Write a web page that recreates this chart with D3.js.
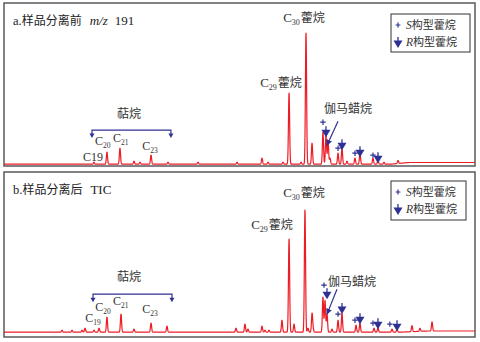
<!DOCTYPE html>
<html><head><meta charset="utf-8">
<script src="https://cdn.jsdelivr.net/npm/d3@7/dist/d3.min.js"></script>
<style>
html,body{margin:0;padding:0;background:#fff;}
svg{display:block;}
</style></head>
<body>
<script>
// ---------- DATA (retention time in min, intensity relative to C30 hopane = 100) ----------
const peakTimesA   = [24.55,25.93,27.31,28.80,29.44,30.61,32.41,35.60,39.74,42.39,43.03,44.62,45.26,46.53,47.06,47.70,48.86,49.18,49.40,49.61,50.46,50.88,51.41,52.26,52.79,54.17,54.70,55.34,56.83];
const peakHeightsA = [1.5,9.2,12.2,2.3,1.5,6.9,1.5,1.5,1.5,4.6,1.5,1.5,54.2,1.5,100,16,24.4,22,18,4.6,8.4,12.2,2.3,4.6,8.4,4.6,3,1.5,2.3];
const peakTimesB   = [21.16,22.22,23.28,23.60,24.55,25.09,25.93,27.42,28.80,30.61,32.30,39.63,40.58,40.90,42.39,42.71,43.13,44.51,45.26,45.79,46.95,47.27,47.70,47.80,48.86,49.08,49.29,49.82,50.46,50.88,52.37,52.79,54.28,54.70,56.19,56.72,58.31,59.16,60.44];
const peakHeightsB = [1.6,1.6,1.6,3.3,1.6,3.3,12.3,14.8,2.5,7.4,4.9,3.3,6.6,2.5,4.9,1.6,1.6,9.8,76.2,6.6,100,3.3,14.8,3,28.7,26,14.8,2.5,9.8,15.6,5.7,7.4,3.3,3.3,2.5,2.5,4.9,2.5,7.4];
const baselineA = [[15,0],[56,0],[58,1.3],[65,1.3]];
const baselineB = [[15,0],[57,0],[60,1.0],[65,1.0]];

// S / R hopane markers: [time, intensity]
const sMarksA = [[48.86,32],[50.46,12.2],[52.26,8.4],[54.17,6.9]];
const rMarksA = [[49.18,20.6],[50.88,10.7],[52.79,5.3],[54.70,0.8]];
const sMarksB = [[48.97,38.5],[50.46,14.8],[52.26,9.8],[54.17,7.4],[55.96,6.6]];
const rMarksB = [[49.29,27],[50.88,14.8],[52.79,6.6],[54.70,2.5],[56.72,0.8]];

// peak labels: [time, intensity, main, subscript, suffix]
const labelsA = [[24.45,6.0,"C19","",""],[25.48,18.0,"C","20",""],[27.40,20.5,"C","21",""],[30.50,14.5,"C","23",""],
                 [44.41,62.6,"C","29","藿烷"],[46.85,112,"C","30","藿烷"]];
const labelsB = [[24.44,12.3,"C","19",""],[25.50,21.3,"C","20",""],[27.40,26.2,"C","21",""],[30.50,19.7,"C","23",""],
                 [43.45,88.5,"C","29","藿烷"],[46.85,114,"C","30","藿烷"]];
// gammacerane annotation: label [t,h], arrow from [t,h] to [t,h]
const gammaA = {label:[51.52,42.7], from:[50.46,32.8], to:[49.29,14.5]};
const gammaB = {label:[51.94,41.8], from:[50.35,35.2], to:[49.29,14.8]};
// terpane bracket: [t0,t1,h], label [t,h]
const terpA = {span:[24.34,32.72,26.0], label:[28.27,38.9]};
const terpB = {span:[24.45,32.83,31.1], label:[28.27,45.9]};

const titles = ["a.样品分离前", "b.样品分离后"];
const legendTexts = ["构型藿烷","构型藿烷"];

// ---------- LAYOUT ----------
const W = 480, H = 342;
const RED = "#ed1c24", BLUE = "#2e3192";
const svg = d3.select("body").append("svg").attr("width", W).attr("height", H);
svg.append("defs").append("marker").attr("id","ah").attr("viewBox","0 0 10 10")
  .attr("refX",9).attr("refY",5).attr("markerWidth",6).attr("markerHeight",6)
  .attr("markerUnits","userSpaceOnUse").attr("orient","auto")
  .append("path").attr("d","M0,0L10,5L0,10Z").attr("fill",BLUE);

const x = d3.scaleLinear().domain([15,65]).range([4,475]);

const panels = [
  {top:3, bottom:166, y:d3.scaleLinear().domain([0,100]).range([164.2,33]),
   t:peakTimesA, h:peakHeightsA, base:baselineA, s:sMarksA, r:rMarksA, labels:labelsA, gamma:gammaA, terp:terpA,
   title:titles[0], extra:"mz", legTop:14, legBottom:52, legRight:470},
  {top:172, bottom:337, y:d3.scaleLinear().domain([0,100]).range([332.2,210]),
   t:peakTimesB, h:peakHeightsB, base:baselineB, s:sMarksB, r:rMarksB, labels:labelsB, gamma:gammaB, terp:terpB,
   title:titles[1], extra:"TIC", legTop:181, legBottom:220, legRight:466}
];

const SIG = 0.062;
const ts = d3.range(15, 65.0001, 0.01);

function drawArrowMarker(g, cx, tipY, s) {
  g.append("line").attr("x1",cx).attr("x2",cx).attr("y1",tipY-11*s).attr("y2",tipY-5*s)
    .attr("stroke",BLUE).attr("stroke-width",1.3);
  g.append("path").attr("d",`M${cx-4.5*s},${tipY-7.5*s}L${cx+4.5*s},${tipY-7.5*s}L${cx},${tipY}Z`).attr("fill",BLUE);
}
function drawPlus(g, cx, cy, s) {
  g.append("path").attr("d",`M${cx-3*s},${cy}H${cx+3*s}M${cx},${cy-3*s}V${cy+3*s}`)
    .attr("stroke",BLUE).attr("stroke-width",1.2).attr("fill","none");
}

panels.forEach(p => {
  const g = svg.append("g");
  const y = p.y;
  g.append("rect").attr("x",4).attr("y",p.top).attr("width",471).attr("height",p.bottom-p.top)
    .attr("fill","none").attr("stroke","#5a5a5a").attr("stroke-width",1.5);

  const baseF = d3.scaleLinear().domain(p.base.map(d=>d[0])).range(p.base.map(d=>d[1]));
  const trace = ts.map(t => {
    let v = baseF(t);
    for (let i=0;i<p.t.length;i++){ const d=(t-p.t[i])/SIG; if (Math.abs(d)<6) v += p.h[i]*Math.exp(-0.5*d*d); }
    return [t,v];
  });
  g.append("path").datum(trace)
    .attr("d", d3.line().x(d=>x(d[0])).y(d=>y(d[1])))
    .attr("fill","none").attr("stroke",RED).attr("stroke-width",1.2).attr("stroke-linejoin","round");

  const tt = g.append("text").attr("x",13).attr("y",p.top+22).attr("font-size",12.5).attr("fill","#222")
    .attr("font-family","'Liberation Serif','Noto Sans CJK SC',serif");
  tt.append("tspan").text(p.title.slice(0,2));
  tt.append("tspan").attr("font-family","'Noto Sans CJK SC',sans-serif").attr("font-size",12).text(p.title.slice(2));
  if (p.extra === "mz") {
    tt.append("tspan").attr("dx",8).attr("font-style","italic").attr("font-size",13).text("m/z");
    tt.append("tspan").attr("dx",7).attr("font-size",13).text("191");
  } else {
    tt.append("tspan").attr("dx",8).attr("font-size",13).text("TIC");
  }

  const lx0 = 391, lw = p.legRight - lx0;
  g.append("rect").attr("x",lx0).attr("y",p.legTop).attr("width",lw).attr("height",p.legBottom-p.legTop)
    .attr("fill","#fff").attr("stroke","#333").attr("stroke-width",1);
  const r1 = p.legTop + 11, r2 = p.legTop + 28;
  drawPlus(g, 398, r1, 0.8);
  drawArrowMarker(g, 398, r2+6, 1.0);
  [["S",r1],["R",r2]].forEach((d,i) => {
    const tx = g.append("text").attr("x",406).attr("y",d[1]+4).attr("font-size",11.5).attr("fill","#333");
    tx.append("tspan").attr("font-family","'Liberation Serif',serif").attr("font-style","italic").text(d[0]);
    tx.append("tspan").attr("font-family","'Noto Sans CJK SC',sans-serif").attr("font-size",11).text(legendTexts[i]);
  });

  p.s.forEach(d => drawPlus(g, x(d[0]), y(d[1]), 0.9));
  p.r.forEach(d => drawArrowMarker(g, x(d[0]), y(d[1]), 1.0));

  p.labels.forEach(d => {
    const big = !!d[4];
    const t = g.append("text").attr("x",x(d[0])).attr("y",y(d[1])+4.5).attr("text-anchor","middle")
      .attr("fill","#333").attr("font-family","'Liberation Serif',serif").attr("font-size",big?13:12);
    t.append("tspan").text(d[2]);
    if (d[3]) t.append("tspan").attr("font-size",big?8:7.5).attr("dy",3).text(d[3]);
    if (d[4]) t.append("tspan").attr("font-size",12).attr("dy",-3).attr("dx",1)
      .attr("font-family","'Noto Sans CJK SC',sans-serif").text(d[4]);
  });

  g.append("text").attr("x",x(p.gamma.label[0])).attr("y",y(p.gamma.label[1])+4.5).attr("text-anchor","middle")
    .attr("fill","#333").attr("font-family","'Noto Sans CJK SC',sans-serif").attr("font-size",12).text("伽马蜡烷");
  g.append("line").attr("x1",x(p.gamma.from[0])).attr("y1",y(p.gamma.from[1]))
    .attr("x2",x(p.gamma.to[0])).attr("y2",y(p.gamma.to[1]))
    .attr("stroke",BLUE).attr("stroke-width",1.2).attr("marker-end","url(#ah)");

  const bx0 = x(p.terp.span[0]), bx1 = x(p.terp.span[1]), by = y(p.terp.span[2]);
  g.append("path").attr("d",`M${bx0},${by+5}V${by}H${bx1}V${by+5}`).attr("fill","none")
    .attr("stroke",BLUE).attr("stroke-width",1.2);
  [bx0,bx1].forEach(bx => g.append("path").attr("d",`M${bx-2.5},${by+3.5}L${bx+2.5},${by+3.5}L${bx},${by+8}Z`).attr("fill",BLUE));
  g.append("text").attr("x",x(p.terp.label[0])).attr("y",y(p.terp.label[1])+4.5).attr("text-anchor","middle")
    .attr("fill","#333").attr("font-family","'Noto Sans CJK SC',sans-serif").attr("font-size",12).text("萜烷");
});
</script>
</body></html>
